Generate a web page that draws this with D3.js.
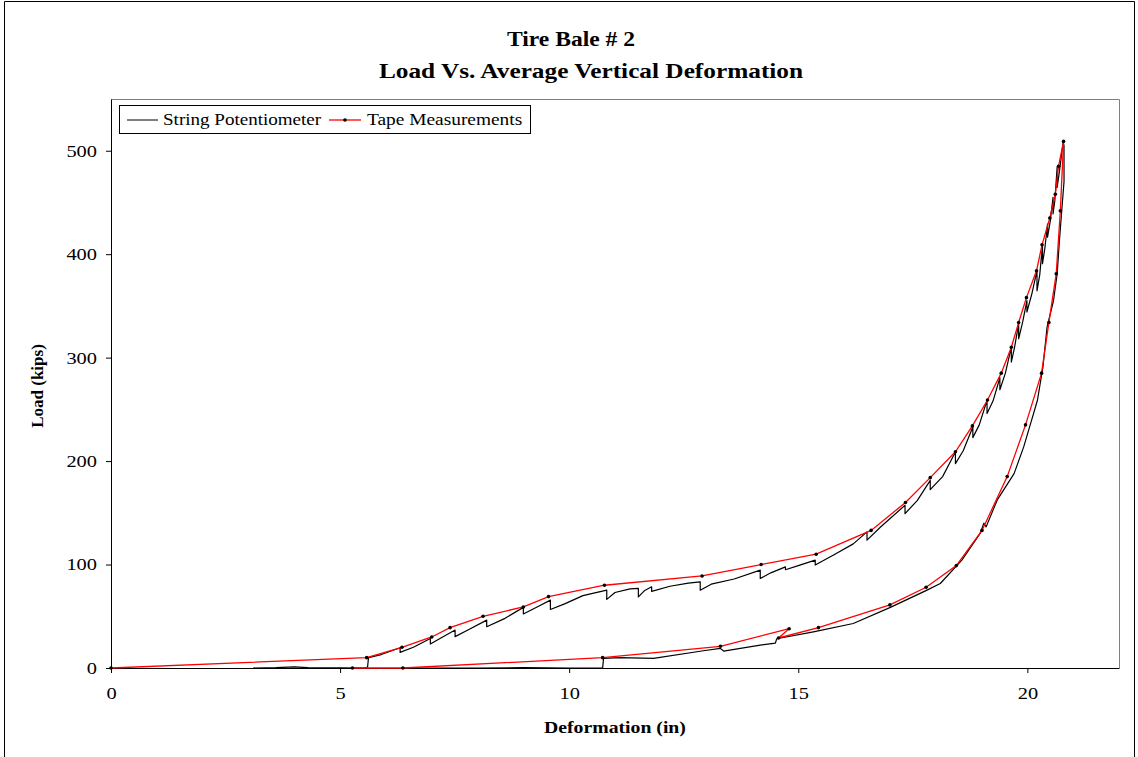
<!DOCTYPE html>
<html>
<head>
<meta charset="utf-8">
<script src="https://cdn.jsdelivr.net/npm/d3@7"></script>
<style>
  body { margin: 0; background: #fff; }
  text { font-family: "Liberation Serif", "Times New Roman", serif; }
</style>
</head>
<body>
<div id="chart"></div>
<script>
// Tape measurements: deformation (in), load (kips)
const tapeX = [0, 5.58, 6.35, 7.0, 7.4, 8.12, 9.0, 9.55, 10.77, 12.9, 14.19, 15.39, 16.59, 17.34, 17.88, 18.43, 18.8, 19.13, 19.43, 19.65, 19.81, 19.98, 20.2, 20.32, 20.49, 20.61, 20.68, 20.79,
  20.72, 20.63, 20.47, 20.31, 19.96, 19.56, 19.01, 18.45, 17.79, 17.0, 15.44, 14.57, 14.8, 13.3, 10.73, 6.37, 5.27];
const tapeY = [0, 10, 20, 30, 39, 50, 59, 69, 80, 89, 100, 110, 133, 160, 184, 209, 234, 259, 285, 310, 334, 358, 384, 409, 435, 458, 485, 509,
  442, 381, 334, 285, 235, 185, 133, 99, 78, 61, 39, 29, 38, 21, 10, 0, 0];

// String potentiometer trace
const stringX = [3.1, 3.6, 4.0, 4.3, 5.0, 5.55, 5.6, 5.62, 5.9, 6.31, 6.31, 6.6, 6.97, 6.97, 7.2, 7.51, 7.51, 7.8, 8.2, 8.2, 8.6, 9.0, 9.0, 9.3, 9.59, 9.59, 9.9, 10.3, 10.82, 10.82,
  11.0, 11.33, 11.51, 11.51, 11.65, 11.8, 11.8, 12.2, 12.6, 12.86, 12.86, 13.1, 13.6, 14.17, 14.17, 14.4, 14.72, 14.72, 15.0, 15.37, 15.37, 15.8, 16.2, 16.5, 16.5,
  16.79, 17.33, 17.33, 17.6, 17.88, 17.88, 18.15, 18.43, 18.43, 18.6, 18.81, 18.81, 18.95, 19.12, 19.12, 19.25, 19.4, 19.4, 19.52, 19.65, 19.65, 19.72, 19.81, 19.81,
  19.9, 19.99, 19.99, 20.1, 20.21, 20.21, 20.27, 20.33, 20.33, 20.38, 20.44, 20.44, 20.5, 20.56, 20.56, 20.6, 20.65, 20.65, 20.7, 20.78, 20.8, 20.8,
  20.75, 20.7, 20.65, 20.57, 20.43, 20.34, 20.22, 20.07, 19.92, 19.71, 19.34, 19.1, 19.05, 18.97, 18.57, 18.1, 17.81, 17.01, 16.2, 15.33, 14.53, 14.5, 14.17,
  13.37, 13.3, 12.93, 11.84, 11.1, 10.75, 10.73, 10.0, 9.0, 8.0, 6.4];
const stringY = [0, 0.3, 1, 0.3, 0.2, 0, 1, 10, 13, 19.6, 15.1, 20, 28.6, 23.2, 29, 36.7, 30.3, 37, 46.3, 39.9, 48, 58.6, 52.2, 59, 65.6, 56.6, 62, 70, 75.3, 66.3,
  73, 76.5, 77, 68.7, 75, 78.5, 74, 79, 82, 83.3, 75.2, 81, 86, 94.6, 86.5, 92, 97.8, 95, 99, 104.3, 99.5, 110, 120, 131.6, 123.6,
  136, 157.3, 149.2, 162, 181.4, 172.4, 185, 208.8, 197.6, 210, 233, 222.7, 235, 258.8, 245.9, 258, 280.6, 269, 285, 310.2, 295.7, 310, 332.7, 318.2,
  335, 355.2, 344, 362, 384, 364.6, 380, 409, 390.8, 405, 429.2, 416.4, 432, 455, 439, 452, 483.9, 464.6, 480, 508, 505, 470,
  442, 413, 381, 355, 329.5, 291, 258.8, 236.2, 213.7, 187.9, 162.2, 136.4, 140, 130, 104.3, 81.7, 75.3, 58.6, 43, 35, 28.3, 24, 22.2,
  16.4, 19, 16.7, 9.3, 10, 9.3, 0, 0, 0.3, 0, 0];

const xTicks = [0, 5, 10, 15, 20];
const yTicks = [0, 100, 200, 300, 400, 500];

const W = 1138, H = 757;
const plot = {left: 111, right: 1119, top: 99, bottom: 668};

// the original text is drawn a bit wider than the font's own metrics
function stretch(sel, k) {
  sel.each(function() {
    const len = this.getComputedTextLength();
    d3.select(this).attr("textLength", len * k).attr("lengthAdjust", "spacingAndGlyphs");
  });
}

const svg = d3.select("#chart").append("svg")
  .attr("width", W).attr("height", H);

// outer chart frame
svg.append("path")
  .attr("d", `M4.5,${H} V1.5 H1134.5 V${H}`)
  .attr("fill", "none").attr("stroke", "#000").attr("stroke-width", 1);

const x = d3.scaleLinear().domain([0, 22]).range([plot.left, plot.right]);
const y = d3.scaleLinear().domain([0, 550]).range([plot.bottom, plot.top]);

// plot area border (gray top/right)
svg.append("path")
  .attr("d", `M${plot.left},${plot.top + 0.5} H${plot.right + 0.5} V${plot.bottom}`)
  .attr("fill", "none").attr("stroke", "#808080").attr("stroke-width", 1);

// axes
const xAxis = svg.append("g")
  .attr("transform", `translate(0,${plot.bottom})`)
  .call(d3.axisBottom(x).tickValues(xTicks).tickSize(5).tickSizeOuter(0).tickPadding(14));
const yAxis = svg.append("g")
  .attr("transform", `translate(${plot.left},0)`)
  .call(d3.axisLeft(y).tickValues(yTicks).tickSize(5).tickSizeOuter(0).tickPadding(9));

[xAxis, yAxis].forEach(g => {
  g.select(".domain").attr("stroke", "#000");
  g.selectAll(".tick line").attr("stroke", "#000");
  g.selectAll(".tick text")
    .attr("fill", "#000")
    .style("font-family", "'Liberation Serif', serif")
    .style("font-size", "17px")
    .call(stretch, 1.2);
});

const line = d3.line().x(d => x(d[0])).y(d => y(d[1]));

const stringData = stringX.map((v, i) => [v, stringY[i]]);
const tapeData = tapeX.map((v, i) => [v, tapeY[i]]);

svg.append("path")
  .datum(stringData)
  .attr("d", line)
  .attr("fill", "none")
  .attr("stroke", "#000")
  .attr("stroke-width", 1.2)
  .attr("stroke-linejoin", "round");

svg.append("path")
  .datum(tapeData)
  .attr("d", line)
  .attr("fill", "none")
  .attr("stroke", "#ff0000")
  .attr("stroke-width", 1.3);

svg.selectAll(".tape-pt")
  .data(tapeData)
  .enter().append("circle")
  .attr("class", "tape-pt")
  .attr("cx", d => x(d[0]))
  .attr("cy", d => y(d[1]))
  .attr("r", 1.8)
  .attr("fill", "#000");

// titles
svg.append("text")
  .attr("x", 571).attr("y", 46)
  .attr("text-anchor", "middle")
  .style("font-size", "22px").style("font-weight", "bold")
  .text("Tire Bale # 2")
  .call(stretch, 1.07);
svg.append("text")
  .attr("x", 591).attr("y", 78)
  .attr("text-anchor", "middle")
  .style("font-size", "22px").style("font-weight", "bold")
  .text("Load Vs. Average Vertical Deformation")
  .call(stretch, 1.15);

svg.append("text")
  .attr("x", 615).attr("y", 733)
  .attr("text-anchor", "middle")
  .style("font-size", "17px").style("font-weight", "bold")
  .text("Deformation (in)")
  .call(stretch, 1.16);

svg.append("text")
  .attr("transform", "translate(43,386) rotate(-90)")
  .attr("text-anchor", "middle")
  .style("font-size", "17px").style("font-weight", "bold")
  .text("Load (kips)");

// legend
const legend = svg.append("g");
legend.append("rect")
  .attr("x", 119.5).attr("y", 105.5).attr("width", 411).attr("height", 28)
  .attr("fill", "#fff").attr("stroke", "#000");
legend.append("line")
  .attr("x1", 127).attr("x2", 158).attr("y1", 120).attr("y2", 120)
  .attr("stroke", "#000");
legend.append("text")
  .attr("x", 163).attr("y", 125)
  .style("font-size", "17px")
  .text("String Potentiometer")
  .call(stretch, 1.12);
legend.append("line")
  .attr("x1", 329).attr("x2", 361).attr("y1", 120).attr("y2", 120)
  .attr("stroke", "#ff0000").attr("stroke-width", 1.3);
legend.append("circle")
  .attr("cx", 345).attr("cy", 120).attr("r", 1.8).attr("fill", "#000");
legend.append("text")
  .attr("x", 367).attr("y", 125)
  .style("font-size", "17px")
  .text("Tape Measurements")
  .call(stretch, 1.14);
</script>
</body>
</html>
